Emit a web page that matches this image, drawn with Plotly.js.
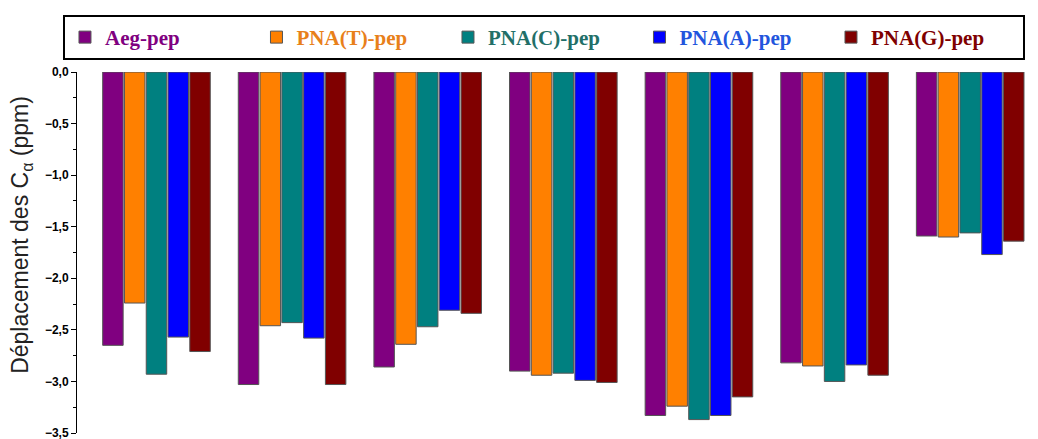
<!DOCTYPE html>
<html>
<head>
<meta charset="utf-8">
<script src="https://cdn.plot.ly/plotly-3.0.1.min.js"></script>
<style>html,body{margin:0;padding:0;background:#fff;}#chart{width:1038px;height:439px;}</style>
</head>
<body>
<div id="chart"></div>
<script>
const groups = ['1', '2', '3', '4', '5', '6', '7'];
const seriesNames = ['Aeg-pep', 'PNA(T)-pep', 'PNA(C)-pep', 'PNA(A)-pep', 'PNA(G)-pep'];
const aegPep  = [-2.65, -3.03, -2.86, -2.90, -3.33, -2.82, -1.59];
const pnaTPep = [-2.24, -2.46, -2.64, -2.94, -3.24, -2.85, -1.60];
const pnaCPep = [-2.93, -2.43, -2.47, -2.92, -3.37, -3.00, -1.56];
const pnaAPep = [-2.57, -2.58, -2.31, -2.99, -3.33, -2.84, -1.77];
const pnaGPep = [-2.71, -3.03, -2.34, -3.01, -3.15, -2.94, -1.64];
const barColors = ['#800080', '#FF8000', '#008080', '#0000FF', '#800000'];
const textColors = ['#800080', '#E8801A', '#226F68', '#2255DD', '#7F0000'];
const yTickVals = [0, -0.5, -1, -1.5, -2, -2.5, -3, -3.5];
const yTitle = 'Déplacement des C<sub>α</sub> (ppm)';

const values = [aegPep, pnaTPep, pnaCPep, pnaAPep, pnaGPep];
const traces = values.map((v, i) => ({
  type: 'bar',
  x: groups,
  y: v,
  name: '<span style="color:' + textColors[i] + '"><b>' + seriesNames[i] + '</b></span>',
  marker: {color: barColors[i], line: {color: '#555', width: 1}},
  hoverinfo: 'y'
}));

const layout = {
  width: 1038, height: 439,
  margin: {l: 77, r: 0, t: 72, b: 6},
  paper_bgcolor: '#fff', plot_bgcolor: '#fff',
  barmode: 'group',
  bargap: 0.197,
  bargroupgap: 0.06,
  separators: ', ',
  showlegend: true,
  legend: {
    orientation: 'h', x: -0.0146, xanchor: 'left', y: 1.158, yanchor: 'top',
    bordercolor: '#000', borderwidth: 2, bgcolor: '#fff',
    entrywidth: 146.5, entrywidthmode: 'pixels',
    font: {family: 'Liberation Serif, Times New Roman, serif', size: 21, color: '#000'}
  },
  xaxis: {
    type: 'category', range: [-0.586, 6.5],
    showline: false, showticklabels: false, ticks: '', showgrid: false, zeroline: false
  },
  yaxis: {
    range: [-3.5, 0], showgrid: false, zeroline: false,
    showline: true, linecolor: '#000', linewidth: 1,
    ticks: 'outside', ticklen: 5, tickcolor: '#000', tickwidth: 1,
    tickvals: yTickVals, tickformat: '.1f', ticklabeloverflow: 'allow',
    minor: {ticks: 'outside', ticklen: 3, dtick: 0.25, tickcolor: '#000', showgrid: false},
    tickfont: {family: 'Liberation Sans, Arial, sans-serif', size: 12, color: '#000', weight: 'bold'}
  },
  annotations: [{
    text: yTitle, xref: 'paper', yref: 'paper', x: -0.0572, y: 0.549,
    xanchor: 'center', yanchor: 'middle', textangle: -90, showarrow: false,
    font: {family: 'Liberation Sans, Arial, sans-serif', size: 23, color: '#222'}
  }]
};

Plotly.newPlot('chart', traces, layout, {displayModeBar: false, staticPlot: true});
</script>
</body>
</html>
